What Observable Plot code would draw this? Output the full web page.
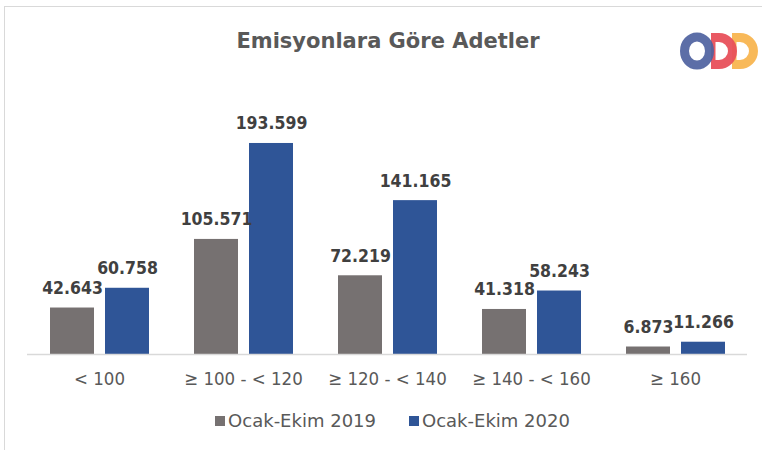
<!DOCTYPE html>
<html><head><meta charset="utf-8">
<script src="https://cdn.jsdelivr.net/npm/d3@7"></script>
<script src="https://cdn.jsdelivr.net/npm/@observablehq/plot@0.6"></script>
<style>
body{margin:0;background:#fff;}
#wrap{position:relative;width:762px;height:450px;overflow:hidden;background:#fff;}
#frame{position:absolute;left:4px;top:6px;width:800px;height:500px;border-top:1.5px solid #d9d9d9;border-left:1.5px solid #d9d9d9;}
#chart{position:absolute;left:0;top:0;}
#title{position:absolute;top:28px;left:0;width:776px;text-align:center;font-family:"DejaVu Sans",sans-serif;font-weight:bold;font-size:21px;line-height:26px;color:#595959;}
#legend{position:absolute;top:410px;left:0;width:785px;display:flex;justify-content:center;gap:33px;font-family:"DejaVu Sans",sans-serif;font-size:18px;line-height:22px;color:#595959;}
#legend span.item{display:flex;align-items:center;gap:3px;}
#legend span.sw{display:inline-block;width:10px;height:10px;}
#logo{position:absolute;left:680px;top:29px;}
</style></head>
<body>
<div id="wrap">
  <div id="frame"></div>
  <div id="chart"></div>
  <div id="title">Emisyonlara Göre Adetler</div>
  <div id="legend"></div>
  <svg id="logo" width="80" height="44" viewBox="0 0 80 44">
    <path d="M52 4 h8 a18 18 0 0 1 0 36 h-8 z M56.5 13 v18 h3.5 a9 9 0 0 0 0 -18 z" fill="#F8B550" fill-rule="evenodd" opacity="0.95"/>
    <path d="M31 4 h8 a18 18 0 0 1 0 36 h-8 z M35.5 13 v18 h3.5 a9 9 0 0 0 0 -18 z" fill="#E8505B" fill-rule="evenodd" opacity="0.95"/>
    <ellipse cx="17" cy="22" rx="12.5" ry="14" fill="none" stroke="#4E62A0" stroke-width="9" opacity="0.92"/>
  </svg>
</div>
<script>
const categories = ["< 100", "≥ 100 - < 120", "≥ 120 - < 140", "≥ 140 - < 160", "≥ 160"];
const series = ["Ocak-Ekim 2019", "Ocak-Ekim 2020"];
const v2019 = [42643, 105571, 72219, 41318, 6873];
const v2020 = [60758, 193599, 141165, 58243, 11266];
const colors = ["#767171", "#2F5597"];

const data = categories.flatMap((c, i) => [
  {cat: c, series: series[0], value: v2019[i]},
  {cat: c, series: series[1], value: v2020[i]}
]);
const fmt = d3.formatLocale({decimal: ",", thousands: ".", grouping: [3], currency: ["", ""]}).format(",d");

const narrow = "'DejaVu Sans Condensed', 'DejaVu Sans', sans-serif";

const chart = Plot.plot({
  width: 762,
  height: 400,
  marginLeft: 27,
  marginRight: 15,
  marginTop: 136,
  marginBottom: 46,
  fx: {domain: categories, padding: 0, axis: "bottom", label: null, tickSize: 0, tickPadding: 17},
  x: {domain: series, axis: null, paddingInner: 0.2, paddingOuter: 0.409},
  y: {domain: [0, 200000], axis: null},
  color: {domain: series, range: colors},
  style: {fontFamily: narrow, fontSize: "18.5px", color: "#595959", background: "transparent"},
  marks: [
    Plot.barY(data, {fx: "cat", x: "series", y: "value", fill: "series"}),
    Plot.ruleY([0], {stroke: "#d9d9d9", strokeWidth: 1.5}),
    Plot.text(data, {fx: "cat", x: "series", y: "value", text: d => fmt(d.value),
      lineAnchor: "bottom", dy: -14, fontWeight: "bold", fontSize: 17.5, fill: "#404040"})
  ]
});
document.getElementById("chart").appendChild(chart);

const legend = document.getElementById("legend");
series.forEach((s, i) => {
  const item = document.createElement("span");
  item.className = "item";
  const sw = document.createElement("span");
  sw.className = "sw";
  sw.style.background = colors[i];
  const t = document.createElement("span");
  t.textContent = s;
  item.appendChild(sw);
  item.appendChild(t);
  legend.appendChild(item);
});
</script>
</body></html>
